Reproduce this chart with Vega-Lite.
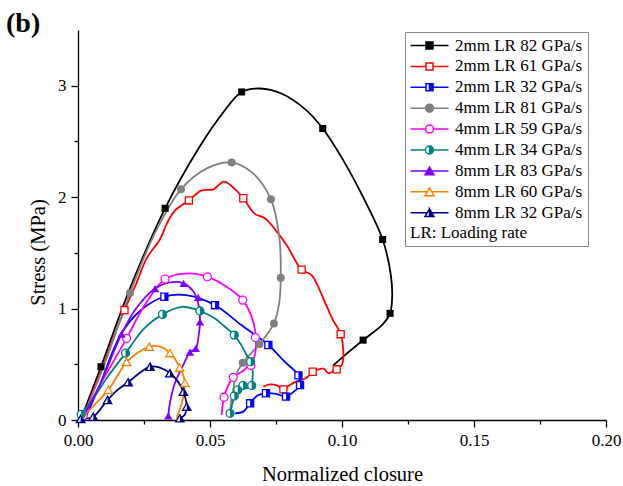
{
  "$schema": "https://vega.github.io/schema/vega-lite/v6.json",
  "width": 528,
  "height": 390,
  "autosize": "none",
  "padding": {"left": 78, "top": 30, "right": 17, "bottom": 66},
  "title": {"text": "(b)", "anchor": "start", "frame": "group", "fontSize": 28, "fontWeight": "bold", "font": "Liberation Serif", "color": "black", "dx": -72, "offset": -8},
  "config": {
    "view": {"stroke": null},
    "font": "Liberation Serif",
    "axis": {"grid": false, "domainColor": "black", "domainWidth": 1.3, "tickColor": "black", "tickWidth": 1.3, "labelColor": "black", "titleColor": "black", "labelFont": "Liberation Serif", "titleFont": "Liberation Serif", "labelFontSize": 17, "titleFontSize": 20.5, "titleFontWeight": "normal", "labelFlush": false}
  },
  "datasets": {
    "curves": [
      {"s": "2mm LR 82 GPa/s", "i": 1, "x": 0.0015, "y": 0.03},
      {"s": "2mm LR 82 GPa/s", "i": 2, "x": 0.0087, "y": 0.478},
      {"s": "2mm LR 82 GPa/s", "i": 3, "x": 0.02, "y": 1.2},
      {"s": "2mm LR 82 GPa/s", "i": 4, "x": 0.033, "y": 1.9},
      {"s": "2mm LR 82 GPa/s", "i": 5, "x": 0.046, "y": 2.45},
      {"s": "2mm LR 82 GPa/s", "i": 6, "x": 0.055, "y": 2.76},
      {"s": "2mm LR 82 GPa/s", "i": 7, "x": 0.062, "y": 2.944},
      {"s": "2mm LR 82 GPa/s", "i": 8, "x": 0.069, "y": 2.975},
      {"s": "2mm LR 82 GPa/s", "i": 9, "x": 0.077, "y": 2.93},
      {"s": "2mm LR 82 GPa/s", "i": 10, "x": 0.086, "y": 2.79},
      {"s": "2mm LR 82 GPa/s", "i": 11, "x": 0.0927, "y": 2.616},
      {"s": "2mm LR 82 GPa/s", "i": 12, "x": 0.1, "y": 2.35},
      {"s": "2mm LR 82 GPa/s", "i": 13, "x": 0.108, "y": 2.0},
      {"s": "2mm LR 82 GPa/s", "i": 14, "x": 0.1154, "y": 1.62},
      {"s": "2mm LR 82 GPa/s", "i": 15, "x": 0.1185, "y": 1.3},
      {"s": "2mm LR 82 GPa/s", "i": 16, "x": 0.119, "y": 1.1},
      {"s": "2mm LR 82 GPa/s", "i": 17, "x": 0.1182, "y": 0.957},
      {"s": "2mm LR 82 GPa/s", "i": 18, "x": 0.1155, "y": 0.86},
      {"s": "2mm LR 82 GPa/s", "i": 19, "x": 0.108, "y": 0.717},
      {"s": "2mm LR 82 GPa/s", "i": 20, "x": 0.102, "y": 0.6},
      {"s": "2mm LR 82 GPa/s", "i": 21, "x": 0.0967, "y": 0.49},

      {"s": "2mm LR 61 GPa/s", "i": 1, "x": 0.002, "y": 0.03},
      {"s": "2mm LR 61 GPa/s", "i": 2, "x": 0.009, "y": 0.46},
      {"s": "2mm LR 61 GPa/s", "i": 3, "x": 0.0176, "y": 0.987},
      {"s": "2mm LR 61 GPa/s", "i": 4, "x": 0.022, "y": 1.22},
      {"s": "2mm LR 61 GPa/s", "i": 5, "x": 0.026, "y": 1.45},
      {"s": "2mm LR 61 GPa/s", "i": 6, "x": 0.031, "y": 1.62},
      {"s": "2mm LR 61 GPa/s", "i": 7, "x": 0.034, "y": 1.78},
      {"s": "2mm LR 61 GPa/s", "i": 8, "x": 0.0367, "y": 1.88},
      {"s": "2mm LR 61 GPa/s", "i": 9, "x": 0.042, "y": 1.97},
      {"s": "2mm LR 61 GPa/s", "i": 10, "x": 0.0468, "y": 2.06},
      {"s": "2mm LR 61 GPa/s", "i": 11, "x": 0.0513, "y": 2.07},
      {"s": "2mm LR 61 GPa/s", "i": 12, "x": 0.0553, "y": 2.14},
      {"s": "2mm LR 61 GPa/s", "i": 13, "x": 0.0595, "y": 2.07},
      {"s": "2mm LR 61 GPa/s", "i": 14, "x": 0.0626, "y": 1.99},
      {"s": "2mm LR 61 GPa/s", "i": 15, "x": 0.067, "y": 1.85},
      {"s": "2mm LR 61 GPa/s", "i": 16, "x": 0.0708, "y": 1.81},
      {"s": "2mm LR 61 GPa/s", "i": 17, "x": 0.075, "y": 1.7},
      {"s": "2mm LR 61 GPa/s", "i": 18, "x": 0.079, "y": 1.57},
      {"s": "2mm LR 61 GPa/s", "i": 19, "x": 0.0847, "y": 1.35},
      {"s": "2mm LR 61 GPa/s", "i": 20, "x": 0.0885, "y": 1.3},
      {"s": "2mm LR 61 GPa/s", "i": 21, "x": 0.094, "y": 1.03},
      {"s": "2mm LR 61 GPa/s", "i": 22, "x": 0.0965, "y": 0.9},
      {"s": "2mm LR 61 GPa/s", "i": 23, "x": 0.0995, "y": 0.77},
      {"s": "2mm LR 61 GPa/s", "i": 24, "x": 0.1005, "y": 0.62},
      {"s": "2mm LR 61 GPa/s", "i": 25, "x": 0.0999, "y": 0.49},
      {"s": "2mm LR 61 GPa/s", "i": 26, "x": 0.098, "y": 0.46},
      {"s": "2mm LR 61 GPa/s", "i": 27, "x": 0.0948, "y": 0.42},
      {"s": "2mm LR 61 GPa/s", "i": 28, "x": 0.093, "y": 0.46},
      {"s": "2mm LR 61 GPa/s", "i": 29, "x": 0.0889, "y": 0.43},
      {"s": "2mm LR 61 GPa/s", "i": 30, "x": 0.0866, "y": 0.38},
      {"s": "2mm LR 61 GPa/s", "i": 31, "x": 0.0822, "y": 0.34},
      {"s": "2mm LR 61 GPa/s", "i": 32, "x": 0.08, "y": 0.31},
      {"s": "2mm LR 61 GPa/s", "i": 33, "x": 0.0778, "y": 0.275},
      {"s": "2mm LR 61 GPa/s", "i": 34, "x": 0.0753, "y": 0.31},
      {"s": "2mm LR 61 GPa/s", "i": 35, "x": 0.0727, "y": 0.32},
      {"s": "2mm LR 61 GPa/s", "i": 36, "x": 0.0702, "y": 0.3},

      {"s": "2mm LR 32 GPa/s", "i": 1, "x": 0.003, "y": 0.03},
      {"s": "2mm LR 32 GPa/s", "i": 2, "x": 0.008, "y": 0.3},
      {"s": "2mm LR 32 GPa/s", "i": 3, "x": 0.0165, "y": 0.78},
      {"s": "2mm LR 32 GPa/s", "i": 4, "x": 0.024, "y": 0.99},
      {"s": "2mm LR 32 GPa/s", "i": 5, "x": 0.0327, "y": 1.106},
      {"s": "2mm LR 32 GPa/s", "i": 6, "x": 0.041, "y": 1.12},
      {"s": "2mm LR 32 GPa/s", "i": 7, "x": 0.0519, "y": 1.03},
      {"s": "2mm LR 32 GPa/s", "i": 8, "x": 0.062, "y": 0.85},
      {"s": "2mm LR 32 GPa/s", "i": 9, "x": 0.0721, "y": 0.673},
      {"s": "2mm LR 32 GPa/s", "i": 10, "x": 0.078, "y": 0.53},
      {"s": "2mm LR 32 GPa/s", "i": 11, "x": 0.0835, "y": 0.4},
      {"s": "2mm LR 32 GPa/s", "i": 12, "x": 0.0841, "y": 0.314},
      {"s": "2mm LR 32 GPa/s", "i": 13, "x": 0.0815, "y": 0.25},
      {"s": "2mm LR 32 GPa/s", "i": 14, "x": 0.0788, "y": 0.21},
      {"s": "2mm LR 32 GPa/s", "i": 15, "x": 0.075, "y": 0.235},
      {"s": "2mm LR 32 GPa/s", "i": 16, "x": 0.0712, "y": 0.24},
      {"s": "2mm LR 32 GPa/s", "i": 17, "x": 0.068, "y": 0.22},
      {"s": "2mm LR 32 GPa/s", "i": 18, "x": 0.0652, "y": 0.15},
      {"s": "2mm LR 32 GPa/s", "i": 19, "x": 0.0626, "y": 0.075},
      {"s": "2mm LR 32 GPa/s", "i": 20, "x": 0.0595, "y": 0.06},

      {"s": "4mm LR 81 GPa/s", "i": 1, "x": 0.002, "y": 0.03},
      {"s": "4mm LR 81 GPa/s", "i": 2, "x": 0.01, "y": 0.5},
      {"s": "4mm LR 81 GPa/s", "i": 3, "x": 0.0197, "y": 1.14},
      {"s": "4mm LR 81 GPa/s", "i": 4, "x": 0.029, "y": 1.67},
      {"s": "4mm LR 81 GPa/s", "i": 5, "x": 0.039, "y": 2.07},
      {"s": "4mm LR 81 GPa/s", "i": 6, "x": 0.049, "y": 2.26},
      {"s": "4mm LR 81 GPa/s", "i": 7, "x": 0.0582, "y": 2.31},
      {"s": "4mm LR 81 GPa/s", "i": 8, "x": 0.066, "y": 2.22},
      {"s": "4mm LR 81 GPa/s", "i": 9, "x": 0.0731, "y": 1.98},
      {"s": "4mm LR 81 GPa/s", "i": 10, "x": 0.0762, "y": 1.65},
      {"s": "4mm LR 81 GPa/s", "i": 11, "x": 0.0768, "y": 1.277},
      {"s": "4mm LR 81 GPa/s", "i": 12, "x": 0.0762, "y": 1.05},
      {"s": "4mm LR 81 GPa/s", "i": 13, "x": 0.0742, "y": 0.867},
      {"s": "4mm LR 81 GPa/s", "i": 14, "x": 0.0687, "y": 0.68},
      {"s": "4mm LR 81 GPa/s", "i": 15, "x": 0.0624, "y": 0.514},
      {"s": "4mm LR 81 GPa/s", "i": 16, "x": 0.0598, "y": 0.4},
      {"s": "4mm LR 81 GPa/s", "i": 17, "x": 0.0588, "y": 0.27},
      {"s": "4mm LR 81 GPa/s", "i": 18, "x": 0.0578, "y": 0.13},
      {"s": "4mm LR 81 GPa/s", "i": 19, "x": 0.0576, "y": 0.07},

      {"s": "4mm LR 59 GPa/s", "i": 1, "x": 0.002, "y": 0.04},
      {"s": "4mm LR 59 GPa/s", "i": 2, "x": 0.008, "y": 0.3},
      {"s": "4mm LR 59 GPa/s", "i": 3, "x": 0.0184, "y": 0.733},
      {"s": "4mm LR 59 GPa/s", "i": 4, "x": 0.025, "y": 1.02},
      {"s": "4mm LR 59 GPa/s", "i": 5, "x": 0.033, "y": 1.265},
      {"s": "4mm LR 59 GPa/s", "i": 6, "x": 0.0418, "y": 1.315},
      {"s": "4mm LR 59 GPa/s", "i": 7, "x": 0.049, "y": 1.285},
      {"s": "4mm LR 59 GPa/s", "i": 8, "x": 0.056, "y": 1.2},
      {"s": "4mm LR 59 GPa/s", "i": 9, "x": 0.0624, "y": 1.076},
      {"s": "4mm LR 59 GPa/s", "i": 10, "x": 0.0664, "y": 0.88},
      {"s": "4mm LR 59 GPa/s", "i": 11, "x": 0.0674, "y": 0.72},
      {"s": "4mm LR 59 GPa/s", "i": 12, "x": 0.0667, "y": 0.56},
      {"s": "4mm LR 59 GPa/s", "i": 13, "x": 0.063, "y": 0.45},
      {"s": "4mm LR 59 GPa/s", "i": 14, "x": 0.0588, "y": 0.383},
      {"s": "4mm LR 59 GPa/s", "i": 15, "x": 0.0565, "y": 0.29},
      {"s": "4mm LR 59 GPa/s", "i": 16, "x": 0.0553, "y": 0.204},
      {"s": "4mm LR 59 GPa/s", "i": 17, "x": 0.0544, "y": 0.045},

      {"s": "4mm LR 34 GPa/s", "i": 1, "x": 0.0012, "y": 0.05},
      {"s": "4mm LR 34 GPa/s", "i": 2, "x": 0.006, "y": 0.2},
      {"s": "4mm LR 34 GPa/s", "i": 3, "x": 0.011, "y": 0.38},
      {"s": "4mm LR 34 GPa/s", "i": 4, "x": 0.018, "y": 0.6},
      {"s": "4mm LR 34 GPa/s", "i": 5, "x": 0.025, "y": 0.82},
      {"s": "4mm LR 34 GPa/s", "i": 6, "x": 0.032, "y": 0.948},
      {"s": "4mm LR 34 GPa/s", "i": 7, "x": 0.0393, "y": 1.016},
      {"s": "4mm LR 34 GPa/s", "i": 8, "x": 0.0462, "y": 0.978},
      {"s": "4mm LR 34 GPa/s", "i": 9, "x": 0.0519, "y": 0.91},
      {"s": "4mm LR 34 GPa/s", "i": 10, "x": 0.055, "y": 0.85},
      {"s": "4mm LR 34 GPa/s", "i": 11, "x": 0.0592, "y": 0.762},
      {"s": "4mm LR 34 GPa/s", "i": 12, "x": 0.0614, "y": 0.69},
      {"s": "4mm LR 34 GPa/s", "i": 13, "x": 0.0639, "y": 0.583},
      {"s": "4mm LR 34 GPa/s", "i": 14, "x": 0.0654, "y": 0.523},
      {"s": "4mm LR 34 GPa/s", "i": 15, "x": 0.0662, "y": 0.433},
      {"s": "4mm LR 34 GPa/s", "i": 16, "x": 0.066, "y": 0.343},
      {"s": "4mm LR 34 GPa/s", "i": 17, "x": 0.0658, "y": 0.31},
      {"s": "4mm LR 34 GPa/s", "i": 18, "x": 0.064, "y": 0.285},
      {"s": "4mm LR 34 GPa/s", "i": 19, "x": 0.0625, "y": 0.31},
      {"s": "4mm LR 34 GPa/s", "i": 20, "x": 0.0615, "y": 0.29},
      {"s": "4mm LR 34 GPa/s", "i": 21, "x": 0.0605, "y": 0.27},
      {"s": "4mm LR 34 GPa/s", "i": 22, "x": 0.0598, "y": 0.24},
      {"s": "4mm LR 34 GPa/s", "i": 23, "x": 0.0592, "y": 0.215},
      {"s": "4mm LR 34 GPa/s", "i": 24, "x": 0.0585, "y": 0.15},
      {"s": "4mm LR 34 GPa/s", "i": 25, "x": 0.058, "y": 0.1},
      {"s": "4mm LR 34 GPa/s", "i": 26, "x": 0.0576, "y": 0.06},

      {"s": "8mm LR 83 GPa/s", "i": 1, "x": 0.002, "y": 0.03},
      {"s": "8mm LR 83 GPa/s", "i": 2, "x": 0.008, "y": 0.3},
      {"s": "8mm LR 83 GPa/s", "i": 3, "x": 0.0165, "y": 0.77},
      {"s": "8mm LR 83 GPa/s", "i": 4, "x": 0.022, "y": 1.0},
      {"s": "8mm LR 83 GPa/s", "i": 5, "x": 0.0292, "y": 1.18},
      {"s": "8mm LR 83 GPa/s", "i": 6, "x": 0.035, "y": 1.235},
      {"s": "8mm LR 83 GPa/s", "i": 7, "x": 0.04, "y": 1.226},
      {"s": "8mm LR 83 GPa/s", "i": 8, "x": 0.0435, "y": 1.16},
      {"s": "8mm LR 83 GPa/s", "i": 9, "x": 0.0455, "y": 1.05},
      {"s": "8mm LR 83 GPa/s", "i": 10, "x": 0.0462, "y": 0.88},
      {"s": "8mm LR 83 GPa/s", "i": 11, "x": 0.0456, "y": 0.74},
      {"s": "8mm LR 83 GPa/s", "i": 12, "x": 0.0446, "y": 0.643},
      {"s": "8mm LR 83 GPa/s", "i": 13, "x": 0.0424, "y": 0.61},
      {"s": "8mm LR 83 GPa/s", "i": 14, "x": 0.04, "y": 0.5},
      {"s": "8mm LR 83 GPa/s", "i": 15, "x": 0.0367, "y": 0.33},
      {"s": "8mm LR 83 GPa/s", "i": 16, "x": 0.0348, "y": 0.15},
      {"s": "8mm LR 83 GPa/s", "i": 17, "x": 0.0342, "y": 0.036},

      {"s": "8mm LR 60 GPa/s", "i": 1, "x": 0.002, "y": 0.03},
      {"s": "8mm LR 60 GPa/s", "i": 2, "x": 0.006, "y": 0.13},
      {"s": "8mm LR 60 GPa/s", "i": 3, "x": 0.0115, "y": 0.27},
      {"s": "8mm LR 60 GPa/s", "i": 4, "x": 0.0184, "y": 0.52},
      {"s": "8mm LR 60 GPa/s", "i": 5, "x": 0.023, "y": 0.61},
      {"s": "8mm LR 60 GPa/s", "i": 6, "x": 0.027, "y": 0.657},
      {"s": "8mm LR 60 GPa/s", "i": 7, "x": 0.031, "y": 0.66},
      {"s": "8mm LR 60 GPa/s", "i": 8, "x": 0.0348, "y": 0.6},
      {"s": "8mm LR 60 GPa/s", "i": 9, "x": 0.038, "y": 0.5},
      {"s": "8mm LR 60 GPa/s", "i": 10, "x": 0.0405, "y": 0.335},
      {"s": "8mm LR 60 GPa/s", "i": 11, "x": 0.0402, "y": 0.25},
      {"s": "8mm LR 60 GPa/s", "i": 12, "x": 0.0393, "y": 0.15},
      {"s": "8mm LR 60 GPa/s", "i": 13, "x": 0.038, "y": 0.06},
      {"s": "8mm LR 60 GPa/s", "i": 14, "x": 0.0374, "y": 0.015},

      {"s": "8mm LR 32 GPa/s", "i": 1, "x": 0.001, "y": 0.01},
      {"s": "8mm LR 32 GPa/s", "i": 2, "x": 0.0058, "y": 0.03},
      {"s": "8mm LR 32 GPa/s", "i": 3, "x": 0.0112, "y": 0.18},
      {"s": "8mm LR 32 GPa/s", "i": 4, "x": 0.015, "y": 0.27},
      {"s": "8mm LR 32 GPa/s", "i": 5, "x": 0.019, "y": 0.34},
      {"s": "8mm LR 32 GPa/s", "i": 6, "x": 0.0273, "y": 0.478},
      {"s": "8mm LR 32 GPa/s", "i": 7, "x": 0.031, "y": 0.47},
      {"s": "8mm LR 32 GPa/s", "i": 8, "x": 0.0348, "y": 0.42},
      {"s": "8mm LR 32 GPa/s", "i": 9, "x": 0.038, "y": 0.34},
      {"s": "8mm LR 32 GPa/s", "i": 10, "x": 0.0399, "y": 0.254},
      {"s": "8mm LR 32 GPa/s", "i": 11, "x": 0.0412, "y": 0.12},
      {"s": "8mm LR 32 GPa/s", "i": 12, "x": 0.0405, "y": 0.05},
      {"s": "8mm LR 32 GPa/s", "i": 13, "x": 0.0386, "y": 0.015}
    ],
    "markers": [
      {"s": "2mm LR 82 GPa/s", "x": 0.0087, "y": 0.478},
      {"s": "2mm LR 82 GPa/s", "x": 0.033, "y": 1.9},
      {"s": "2mm LR 82 GPa/s", "x": 0.062, "y": 2.944},
      {"s": "2mm LR 82 GPa/s", "x": 0.0927, "y": 2.616},
      {"s": "2mm LR 82 GPa/s", "x": 0.1154, "y": 1.62},
      {"s": "2mm LR 82 GPa/s", "x": 0.1182, "y": 0.957},
      {"s": "2mm LR 82 GPa/s", "x": 0.108, "y": 0.717},
      {"s": "2mm LR 61 GPa/s", "x": 0.0176, "y": 0.987},
      {"s": "2mm LR 61 GPa/s", "x": 0.042, "y": 1.97},
      {"s": "2mm LR 61 GPa/s", "x": 0.0626, "y": 1.99},
      {"s": "2mm LR 61 GPa/s", "x": 0.0847, "y": 1.35},
      {"s": "2mm LR 61 GPa/s", "x": 0.0995, "y": 0.77},
      {"s": "2mm LR 61 GPa/s", "x": 0.098, "y": 0.455},
      {"s": "2mm LR 61 GPa/s", "x": 0.0889, "y": 0.433},
      {"s": "2mm LR 61 GPa/s", "x": 0.0778, "y": 0.275},
      {"s": "2mm LR 32 GPa/s", "x": 0.0327, "y": 1.106},
      {"s": "2mm LR 32 GPa/s", "x": 0.0519, "y": 1.03},
      {"s": "2mm LR 32 GPa/s", "x": 0.0721, "y": 0.673},
      {"s": "2mm LR 32 GPa/s", "x": 0.0835, "y": 0.4},
      {"s": "2mm LR 32 GPa/s", "x": 0.0841, "y": 0.314},
      {"s": "2mm LR 32 GPa/s", "x": 0.0788, "y": 0.21},
      {"s": "2mm LR 32 GPa/s", "x": 0.0712, "y": 0.24},
      {"s": "2mm LR 32 GPa/s", "x": 0.0652, "y": 0.15},
      {"s": "4mm LR 81 GPa/s", "x": 0.0197, "y": 1.14},
      {"s": "4mm LR 81 GPa/s", "x": 0.039, "y": 2.07},
      {"s": "4mm LR 81 GPa/s", "x": 0.0582, "y": 2.31},
      {"s": "4mm LR 81 GPa/s", "x": 0.0731, "y": 1.98},
      {"s": "4mm LR 81 GPa/s", "x": 0.0768, "y": 1.277},
      {"s": "4mm LR 81 GPa/s", "x": 0.0742, "y": 0.867},
      {"s": "4mm LR 81 GPa/s", "x": 0.0687, "y": 0.68},
      {"s": "4mm LR 81 GPa/s", "x": 0.0624, "y": 0.514},
      {"s": "4mm LR 59 GPa/s", "x": 0.002, "y": 0.04},
      {"s": "4mm LR 59 GPa/s", "x": 0.0184, "y": 0.733},
      {"s": "4mm LR 59 GPa/s", "x": 0.033, "y": 1.265},
      {"s": "4mm LR 59 GPa/s", "x": 0.049, "y": 1.285},
      {"s": "4mm LR 59 GPa/s", "x": 0.0624, "y": 1.076},
      {"s": "4mm LR 59 GPa/s", "x": 0.0672, "y": 0.74},
      {"s": "4mm LR 59 GPa/s", "x": 0.0655, "y": 0.49},
      {"s": "4mm LR 59 GPa/s", "x": 0.0588, "y": 0.383},
      {"s": "4mm LR 59 GPa/s", "x": 0.0553, "y": 0.204},
      {"s": "4mm LR 34 GPa/s", "x": 0.0012, "y": 0.05},
      {"s": "4mm LR 34 GPa/s", "x": 0.018, "y": 0.6},
      {"s": "4mm LR 34 GPa/s", "x": 0.032, "y": 0.948},
      {"s": "4mm LR 34 GPa/s", "x": 0.0462, "y": 0.978},
      {"s": "4mm LR 34 GPa/s", "x": 0.0592, "y": 0.762},
      {"s": "4mm LR 34 GPa/s", "x": 0.0654, "y": 0.523},
      {"s": "4mm LR 34 GPa/s", "x": 0.0658, "y": 0.31},
      {"s": "4mm LR 34 GPa/s", "x": 0.0625, "y": 0.31},
      {"s": "4mm LR 34 GPa/s", "x": 0.0605, "y": 0.27},
      {"s": "4mm LR 34 GPa/s", "x": 0.0592, "y": 0.215},
      {"s": "4mm LR 34 GPa/s", "x": 0.0576, "y": 0.06},
      {"s": "8mm LR 83 GPa/s", "x": 0.0165, "y": 0.77},
      {"s": "8mm LR 83 GPa/s", "x": 0.0292, "y": 1.18},
      {"s": "8mm LR 83 GPa/s", "x": 0.04, "y": 1.226},
      {"s": "8mm LR 83 GPa/s", "x": 0.0455, "y": 1.1},
      {"s": "8mm LR 83 GPa/s", "x": 0.0462, "y": 0.88},
      {"s": "8mm LR 83 GPa/s", "x": 0.0446, "y": 0.643},
      {"s": "8mm LR 83 GPa/s", "x": 0.0424, "y": 0.61},
      {"s": "8mm LR 83 GPa/s", "x": 0.0342, "y": 0.036},
      {"s": "8mm LR 60 GPa/s", "x": 0.0115, "y": 0.27},
      {"s": "8mm LR 60 GPa/s", "x": 0.0184, "y": 0.52},
      {"s": "8mm LR 60 GPa/s", "x": 0.027, "y": 0.657},
      {"s": "8mm LR 60 GPa/s", "x": 0.0348, "y": 0.6},
      {"s": "8mm LR 60 GPa/s", "x": 0.0385, "y": 0.47},
      {"s": "8mm LR 60 GPa/s", "x": 0.0405, "y": 0.335},
      {"s": "8mm LR 32 GPa/s", "x": 0.001, "y": 0.01},
      {"s": "8mm LR 32 GPa/s", "x": 0.0058, "y": 0.03},
      {"s": "8mm LR 32 GPa/s", "x": 0.0112, "y": 0.18},
      {"s": "8mm LR 32 GPa/s", "x": 0.019, "y": 0.34},
      {"s": "8mm LR 32 GPa/s", "x": 0.0273, "y": 0.478},
      {"s": "8mm LR 32 GPa/s", "x": 0.0348, "y": 0.42},
      {"s": "8mm LR 32 GPa/s", "x": 0.0399, "y": 0.254},
      {"s": "8mm LR 32 GPa/s", "x": 0.0412, "y": 0.12},
      {"s": "8mm LR 32 GPa/s", "x": 0.0386, "y": 0.015}
    ]
  },
  "layer": [
    {
      "data": {"name": "curves"},
      "mark": {"type": "line", "strokeWidth": 1.8, "interpolate": "catmull-rom"},
      "encoding": {
        "x": {"field": "x", "type": "quantitative", "scale": {"domain": [0, 0.2], "nice": false, "zero": false},
          "axis": {"title": "Normalized closure", "values": [0, 0.025, 0.05, 0.075, 0.1, 0.125, 0.15, 0.175, 0.2],
            "labelExpr": "round(datum.value*1000) % 50 === 0 ? format(datum.value, '.2f') : ''",
            "tickSize": {"condition": {"test": "round(datum.value*1000) % 50 === 0", "value": 7}, "value": 4},
            "labelPadding": 5, "titleY": 60, "titleBaseline": "alphabetic"}},
        "y": {"field": "y", "type": "quantitative", "scale": {"domain": [0, 3.5], "nice": false},
          "axis": {"title": "Stress (MPa)", "values": [0, 0.5, 1, 1.5, 2, 2.5, 3],
            "labelExpr": "datum.value % 1 === 0 ? format(datum.value, 'd') : ''",
            "tickSize": {"condition": {"test": "datum.value % 1 === 0", "value": 7}, "value": 4},
            "labelPadding": 5, "titleX": -40, "titleY": 222, "titleBaseline": "middle"}},
        "order": {"field": "i", "type": "quantitative"},
        "color": {"field": "s", "type": "nominal", "legend": null,
          "scale": {"range": ["#0000ff", "#ff0000", "#000000", "#008080", "#ff00ff", "#808080", "#000080", "#ff8000", "#8000ff"]}}
      }
    },
    {
      "data": {"name": "markers"},
      "transform": [{"filter": "datum.s === '2mm LR 82 GPa/s'"}],
      "mark": {"type": "point", "shape": "square", "filled": true, "size": 50, "opacity": 1},
      "encoding": {"x": {"field": "x", "type": "quantitative"}, "y": {"field": "y", "type": "quantitative"}, "color": {"field": "s", "type": "nominal", "legend": null}}
    },
    {
      "data": {"name": "markers"},
      "transform": [{"filter": "datum.s === '2mm LR 61 GPa/s' || datum.s === '2mm LR 32 GPa/s'"}],
      "mark": {"type": "point", "shape": "square", "filled": false, "fill": "white", "strokeWidth": 1.3, "size": 50, "opacity": 1},
      "encoding": {"x": {"field": "x", "type": "quantitative"}, "y": {"field": "y", "type": "quantitative"}, "color": {"field": "s", "type": "nominal", "legend": null}}
    },
    {
      "data": {"name": "markers"},
      "transform": [{"filter": "datum.s === '4mm LR 81 GPa/s'"}],
      "mark": {"type": "point", "shape": "circle", "filled": true, "size": 64, "opacity": 1},
      "encoding": {"x": {"field": "x", "type": "quantitative"}, "y": {"field": "y", "type": "quantitative"}, "color": {"field": "s", "type": "nominal", "legend": null}}
    },
    {
      "data": {"name": "markers"},
      "transform": [{"filter": "datum.s === '4mm LR 59 GPa/s' || datum.s === '4mm LR 34 GPa/s'"}],
      "mark": {"type": "point", "shape": "circle", "filled": false, "fill": "white", "strokeWidth": 1.3, "size": 64, "opacity": 1},
      "encoding": {"x": {"field": "x", "type": "quantitative"}, "y": {"field": "y", "type": "quantitative"}, "color": {"field": "s", "type": "nominal", "legend": null}}
    },
    {
      "data": {"name": "markers"},
      "transform": [{"filter": "datum.s === '8mm LR 83 GPa/s'"}],
      "mark": {"type": "point", "shape": "triangle-up", "filled": true, "size": 70, "opacity": 1},
      "encoding": {"x": {"field": "x", "type": "quantitative"}, "y": {"field": "y", "type": "quantitative"}, "color": {"field": "s", "type": "nominal", "legend": null}}
    },
    {
      "data": {"name": "markers"},
      "transform": [{"filter": "datum.s === '8mm LR 60 GPa/s' || datum.s === '8mm LR 32 GPa/s'"}],
      "mark": {"type": "point", "shape": "triangle-up", "filled": false, "fill": "white", "strokeWidth": 1.3, "size": 70, "opacity": 1},
      "encoding": {"x": {"field": "x", "type": "quantitative"}, "y": {"field": "y", "type": "quantitative"}, "color": {"field": "s", "type": "nominal", "legend": null}}
    },
    {
      "data": {"name": "markers"},
      "transform": [{"filter": "datum.s === '2mm LR 32 GPa/s'"}],
      "mark": {"type": "point", "shape": "M0,-1H1V1H0Z", "filled": true, "size": 50, "opacity": 1},
      "encoding": {"x": {"field": "x", "type": "quantitative"}, "y": {"field": "y", "type": "quantitative"}, "color": {"field": "s", "type": "nominal", "legend": null}}
    },
    {
      "data": {"name": "markers"},
      "transform": [{"filter": "datum.s === '4mm LR 34 GPa/s'"}],
      "mark": {"type": "point", "shape": "M0,-1A1,1 0 0,1 0,1Z", "filled": true, "size": 64, "opacity": 1},
      "encoding": {"x": {"field": "x", "type": "quantitative"}, "y": {"field": "y", "type": "quantitative"}, "color": {"field": "s", "type": "nominal", "legend": null}}
    },
    {
      "data": {"name": "markers"},
      "transform": [{"filter": "datum.s === '8mm LR 32 GPa/s'"}],
      "mark": {"type": "point", "shape": "M0,-0.866L1,0.866H0Z", "filled": true, "size": 70, "opacity": 1},
      "encoding": {"x": {"field": "x", "type": "quantitative"}, "y": {"field": "y", "type": "quantitative"}, "color": {"field": "s", "type": "nominal", "legend": null}}
    },
    {
      "data": {"name": "markers"},
      "mark": {"type": "point", "strokeWidth": 1.5, "opacity": 0},
      "encoding": {
        "x": {"field": "x", "type": "quantitative"},
        "y": {"field": "y", "type": "quantitative"},
        "shape": {"field": "s", "type": "nominal",
          "scale": {"domain": ["2mm LR 82 GPa/s", "2mm LR 61 GPa/s", "2mm LR 32 GPa/s", "4mm LR 81 GPa/s", "4mm LR 59 GPa/s", "4mm LR 34 GPa/s", "8mm LR 83 GPa/s", "8mm LR 60 GPa/s", "8mm LR 32 GPa/s"],
            "range": ["M-3.8,0H-0.7M0.7,0H3.8M-0.7,-0.7H0.7V0.7H-0.7Z", "M-3.8,0H-0.7M0.7,0H3.8M-0.7,-0.7H0.7V0.7H-0.7Z", "M-3.8,0H-0.7M0.7,0H3.8M0,-0.7H0.7V0.7H0ZM0,-0.7H-0.7V0.7H0H-0.7V-0.7H0", "M-3.8,0H-0.8M0.8,0H3.8M0.8,0A0.8,0.8 0 1,1 -0.8,0A0.8,0.8 0 1,1 0.8,0Z", "M-3.8,0H-0.8M0.8,0H3.8M0.8,0A0.8,0.8 0 1,1 -0.8,0A0.8,0.8 0 1,1 0.8,0Z", "M-3.8,0H-0.8M0.8,0H3.8M0,-0.8A0.8,0.8 0 0,1 0,0.8ZM0,-0.8A0.8,0.8 0 0,0 0,0.8A0.8,0.8 0 0,1 0,-0.8", "M-3.8,0H-0.45M0.45,0H3.8M0,-0.78L0.9,0.78H-0.9Z", "M-3.8,0H-0.45M0.45,0H3.8M0,-0.78L0.9,0.78H-0.9Z", "M-3.8,0H-0.45M0.45,0H3.8M0,-0.78L0.9,0.78H0ZM0,-0.78L-0.9,0.78H0H-0.9L0,-0.78"]},
          "legend": {"orient": "none", "legendX": 327, "legendY": 2, "title": "LR: Loading rate", "titleOrient": "bottom", "titleAnchor": "start", "titleFontWeight": "normal", "titleFontSize": 17, "titleFont": "Liberation Serif", "titleColor": "black", "titlePadding": 4, "labelFont": "Liberation Serif", "labelFontSize": 17, "labelColor": "black", "symbolSize": 100, "symbolStrokeWidth": 1.5, "symbolOffset": 11, "labelOffset": 17, "rowPadding": 2.9, "padding": 5, "strokeColor": "#888888", "fillColor": "white", "symbolOpacity": 1}},
        "fill": {"field": "s", "type": "nominal",
          "scale": {"domain": ["2mm LR 82 GPa/s", "2mm LR 61 GPa/s", "2mm LR 32 GPa/s", "4mm LR 81 GPa/s", "4mm LR 59 GPa/s", "4mm LR 34 GPa/s", "8mm LR 83 GPa/s", "8mm LR 60 GPa/s", "8mm LR 32 GPa/s"],
            "range": ["#000000", "#ffffff", "#0000ff", "#808080", "#ffffff", "#008080", "#8000ff", "#ffffff", "#000080"]},
          "legend": {"orient": "none", "legendX": 327, "legendY": 2, "title": "LR: Loading rate", "titleOrient": "bottom", "titleAnchor": "start", "titleFontWeight": "normal", "titleFontSize": 17, "titleFont": "Liberation Serif", "titleColor": "black", "titlePadding": 4, "labelFont": "Liberation Serif", "labelFontSize": 17, "labelColor": "black", "symbolSize": 100, "symbolStrokeWidth": 1.5, "symbolOffset": 11, "labelOffset": 17, "rowPadding": 2.9, "padding": 5, "strokeColor": "#888888", "fillColor": "white", "symbolOpacity": 1}},
        "stroke": {"field": "s", "type": "nominal",
          "scale": {"domain": ["2mm LR 82 GPa/s", "2mm LR 61 GPa/s", "2mm LR 32 GPa/s", "4mm LR 81 GPa/s", "4mm LR 59 GPa/s", "4mm LR 34 GPa/s", "8mm LR 83 GPa/s", "8mm LR 60 GPa/s", "8mm LR 32 GPa/s"],
            "range": ["#000000", "#ff0000", "#0000ff", "#808080", "#ff00ff", "#008080", "#8000ff", "#ff8000", "#000080"]},
          "legend": {"orient": "none", "legendX": 327, "legendY": 2, "title": "LR: Loading rate", "titleOrient": "bottom", "titleAnchor": "start", "titleFontWeight": "normal", "titleFontSize": 17, "titleFont": "Liberation Serif", "titleColor": "black", "titlePadding": 4, "labelFont": "Liberation Serif", "labelFontSize": 17, "labelColor": "black", "symbolSize": 100, "symbolStrokeWidth": 1.5, "symbolOffset": 11, "labelOffset": 17, "rowPadding": 2.9, "padding": 5, "strokeColor": "#888888", "fillColor": "white", "symbolOpacity": 1}}
      }
    }
  ]
}
